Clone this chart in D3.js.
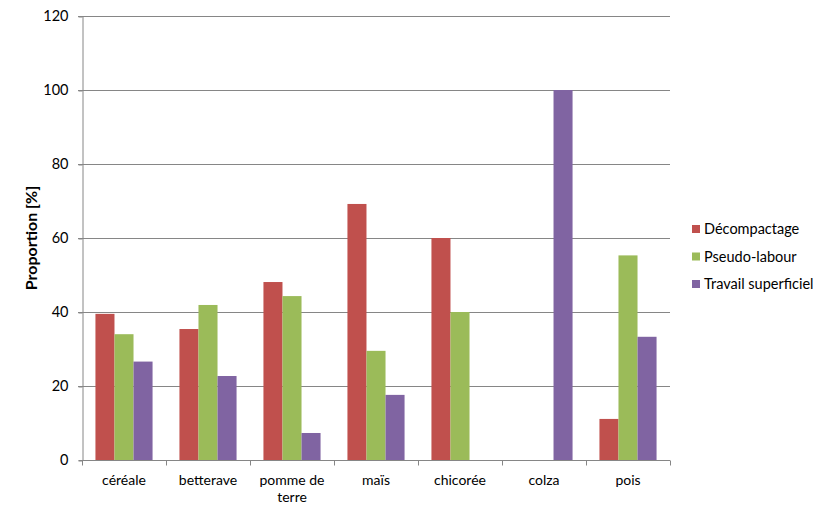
<!DOCTYPE html>
<html><head><meta charset="utf-8">
<script src="https://cdn.jsdelivr.net/npm/d3@7"></script>
<style>body{margin:0;background:#fff}svg{display:block}text{font-family:Lato,"Open Sans",sans-serif;fill:#000}</style>
</head><body><svg id="c" width="833" height="514"></svg>
<script>
const categories = ["céréale","betterave","pomme de terre","maïs","chicorée","colza","pois"];
const seriesNames = ["Décompactage","Pseudo-labour","Travail superficiel"];
const decompactage = [39.5,35.4,48.1,69.2,60,0,11.1];
const pseudoLabour = [34.0,41.9,44.3,29.5,40,0,55.3];
const travailSuperficiel = [26.6,22.7,7.3,17.6,0,100,33.3];
const yTicks = [0,20,40,60,80,100,120];
const colors = ["#C0504D","#9BBB59","#8064A2"];
const seriesValues = [decompactage,pseudoLabour,travailSuperficiel];

const svg = d3.select("#c");
const L=82,R=670,T=16,B=460;
const y = d3.scaleLinear().domain([0,120]).range([B,T]);
const x0 = d3.scaleBand().domain(categories).range([L,R]).paddingInner(0.32).paddingOuter(0.16);
const x1 = d3.scaleBand().domain(seriesNames).range([0,x0.bandwidth()]);
const xs = d3.scaleBand().domain(categories).range([L,R]);

// gridlines
svg.append("g").selectAll("line").data(yTicks.filter(d=>d>0)).join("line")
 .attr("x1",L-4).attr("x2",R).attr("y1",d=>y(d)+0.5).attr("y2",d=>y(d)+0.5)
 .attr("stroke","#868686").attr("stroke-width",1);

// y axis
const ya = svg.append("g").attr("transform",`translate(${L+0.5},0)`)
 .call(d3.axisLeft(y).tickValues(yTicks).tickSize(4).tickPadding(10));
ya.select(".domain").attr("stroke","#868686");
ya.selectAll(".tick line").attr("stroke","#868686").attr("transform","translate(0,0.5)");
ya.selectAll(".tick text").attr("font-size","14.5px").attr("font-family","Lato,'Open Sans',sans-serif").attr("fill","#000");

// bars
categories.forEach((c,i)=>{
  seriesNames.forEach((s,j)=>{
    const v = seriesValues[j][i];
    if(v>0) svg.append("rect").attr("x",x0(c)+x1(s)).attr("width",x1.bandwidth())
      .attr("y",y(v)).attr("height",y(0)-y(v)).attr("fill",colors[j]);
  });
});

// x axis
const xa = svg.append("g").attr("transform",`translate(0,${B+0.5})`);
xa.append("line").attr("x1",L).attr("x2",R).attr("stroke","#868686");
xa.selectAll("line.t").data(categories.concat(["_end"])).join("line").attr("class","t")
 .attr("x1",(d,i)=>L+0.5+i*xs.step()).attr("x2",(d,i)=>L+0.5+i*xs.step())
 .attr("y1",0).attr("y2",5).attr("stroke","#868686");
categories.forEach(c=>{
  const cx = xs(c)+xs.bandwidth()/2;
  const t = svg.append("text").attr("x",cx).attr("y",485).attr("text-anchor","middle").attr("font-size","14px");
  if(c==="pomme de terre"){
    t.append("tspan").attr("x",cx).attr("dy",0).text("pomme de");
    t.append("tspan").attr("x",cx).attr("dy",17).text("terre");
  } else t.text(c);
});

// y title
svg.append("text").attr("transform","translate(37,238) rotate(-90)").attr("text-anchor","middle")
 .attr("font-size","16px").attr("font-weight","bold").text("Proportion [%]");

// legend
const lg = svg.append("g");
seriesNames.forEach((s,j)=>{
  const yy = 229 + j*27.5;
  lg.append("rect").attr("x",692).attr("y",yy-4).attr("width",8).attr("height",8).attr("fill",colors[j]);
  lg.append("text").attr("x",704).attr("y",yy+5).attr("font-size","14.5px").text(s);
});
</script></body></html>
